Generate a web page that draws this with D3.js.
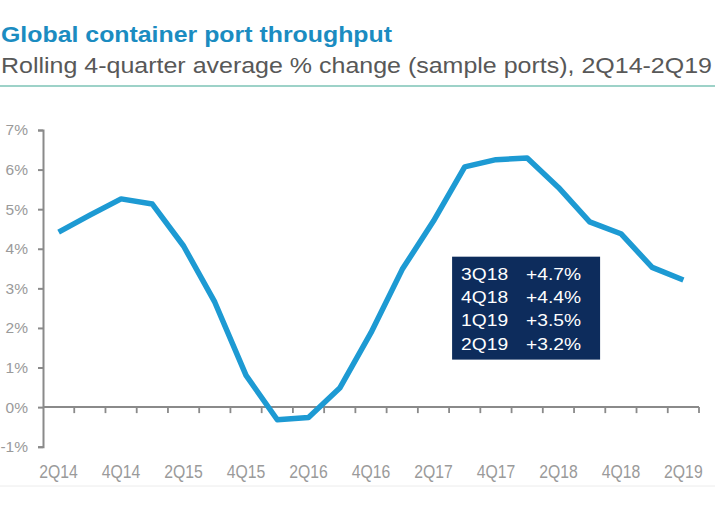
<!DOCTYPE html>
<html>
<head>
<meta charset="utf-8">
<script src="https://cdn.jsdelivr.net/npm/d3@7"></script>
<style>
  body { margin: 0; background: #fff; }
  svg { display: block; }
</style>
</head>
<body>
<div id="chart"></div>
<script>
const width = 715;
const height = 511;

// --- DATA ---
const quarters = [
  "2Q14", "3Q14", "4Q14", "1Q15", "2Q15", "3Q15", "4Q15",
  "1Q16", "2Q16", "3Q16", "4Q16", "1Q17", "2Q17", "3Q17",
  "4Q17", "1Q18", "2Q18", "3Q18", "4Q18", "1Q19", "2Q19"
];
const throughput = [
  4.42, 4.85, 5.26, 5.13, 4.07, 2.65, 0.80,
  -0.32, -0.26, 0.48, 1.88, 3.48, 4.70, 6.07,
  6.25, 6.29, 5.55, 4.68, 4.38, 3.53, 3.21
];
const yTicks = [-1, 0, 1, 2, 3, 4, 5, 6, 7];
const xLabels = ["2Q14", "4Q14", "2Q15", "4Q15", "2Q16", "4Q16", "2Q17", "4Q17", "2Q18", "4Q18", "2Q19"];
const boxQuarters = ["3Q18", "4Q18", "1Q19", "2Q19"];
const boxValues = ["+4.7%", "+4.4%", "+3.5%", "+3.2%"];

const margin = { top: 130, right: 16, bottom: 65, left: 43 };

const svg = d3.select("#chart")
  .append("svg")
  .attr("width", width)
  .attr("height", height)
  .style("font-family", "Arial, 'Liberation Sans', sans-serif");

// the source picture is a bit wider than normal Arial, stretch texts to match
function stretch(sel, factor) {
  sel.each(function () {
    const len = this.getComputedTextLength();
    d3.select(this)
      .attr("textLength", len * factor)
      .attr("lengthAdjust", "spacingAndGlyphs");
  });
}

// --- HEADER ---
svg.append("text")
  .attr("x", 1)
  .attr("y", 42)
  .attr("fill", "#1b8cc1")
  .attr("font-size", "22px")
  .attr("font-weight", "bold")
  .text("Global container port throughput")
  .attr("textLength", 391)
  .attr("lengthAdjust", "spacingAndGlyphs");

svg.append("text")
  .attr("x", 1)
  .attr("y", 73)
  .attr("fill", "#585858")
  .attr("font-size", "21.5px")
  .text("Rolling 4-quarter average % change (sample ports), 2Q14-2Q19")
  .attr("textLength", 711)
  .attr("lengthAdjust", "spacingAndGlyphs");

svg.append("line")
  .attr("x1", 0).attr("x2", width)
  .attr("y1", 86).attr("y2", 86)
  .attr("stroke", "#7cc3b6")
  .attr("stroke-width", 1.5);

svg.append("line")
  .attr("x1", 0).attr("x2", width)
  .attr("y1", 486).attr("y2", 486)
  .attr("stroke", "#ececec")
  .attr("stroke-width", 1);

// --- SCALES ---
const x = d3.scaleBand()
  .domain(quarters)
  .range([margin.left, 699])
  .paddingInner(0)
  .paddingOuter(0);

const y = d3.scaleLinear()
  .domain([-1, 7])
  .range([446.7, margin.top]);

const axisColor = "#8a8a8a";
const labelColor = "#9a9a9a";

// y axis
const yAxis = svg.append("g")
  .attr("transform", `translate(${margin.left},0)`)
  .call(d3.axisLeft(y)
    .tickValues(yTicks)
    .tickSize(5)
    .tickPadding(10)
    .tickFormat(d => d + "%"));

yAxis.select(".domain").attr("stroke", axisColor).attr("stroke-width", 2);
yAxis.selectAll(".tick line").attr("stroke", axisColor).attr("stroke-width", 2);
yAxis.selectAll(".tick text")
  .attr("fill", labelColor)
  .attr("font-size", "15.5px")
  .attr("font-family", "Arial, 'Liberation Sans', sans-serif");

// x axis at 0%, ticks on band boundaries
const xAxisG = svg.append("g");

xAxisG.append("line")
  .attr("x1", x.range()[0]).attr("x2", x.range()[1])
  .attr("y1", y(0)).attr("y2", y(0))
  .attr("stroke", axisColor)
  .attr("stroke-width", 2);

xAxisG.selectAll(".xtick")
  .data(quarters)
  .join("line")
  .attr("class", "xtick")
  .attr("x1", d => x(d) + x.bandwidth())
  .attr("x2", d => x(d) + x.bandwidth())
  .attr("y1", y(0))
  .attr("y2", y(0) + 6)
  .attr("stroke", axisColor)
  .attr("stroke-width", 1.8);

xAxisG.selectAll(".xlabel")
  .data(xLabels)
  .join("text")
  .attr("class", "xlabel")
  .attr("x", d => x(d) + x.bandwidth() / 2)
  .attr("y", 478)
  .attr("text-anchor", "middle")
  .attr("fill", labelColor)
  .attr("font-size", "17.5px")
  .text(d => d)
  .call(stretch, 0.9);

// --- LINE ---
const line = d3.line()
  .x((d, i) => x(quarters[i]) + x.bandwidth() / 2)
  .y(d => y(d))
  .curve(d3.curveLinear);

svg.append("path")
  .datum(throughput)
  .attr("d", line)
  .attr("fill", "none")
  .attr("stroke", "#1d9ad3")
  .attr("stroke-width", 5.5)
  .attr("stroke-linejoin", "round")
  .attr("stroke-linecap", "butt");

// --- ANNOTATION BOX ---
const boxX = x("3Q17") + 3;
const boxY = y(3.8);
const boxW = 148;
const boxH = y(1.2) - y(3.8);

const box = svg.append("g");

box.append("rect")
  .attr("x", boxX)
  .attr("y", boxY)
  .attr("width", boxW)
  .attr("height", boxH)
  .attr("fill", "#0d2c5c");

box.selectAll(".bq")
  .data(boxQuarters)
  .join("text")
  .attr("class", "bq")
  .attr("x", boxX + 9)
  .attr("y", (d, i) => boxY + 23 + i * 23.4)
  .attr("fill", "#ffffff")
  .attr("font-size", "16px")
  .text(d => d)
  .call(stretch, 1.2);

box.selectAll(".bv")
  .data(boxValues)
  .join("text")
  .attr("class", "bv")
  .attr("x", boxX + 74)
  .attr("y", (d, i) => boxY + 23 + i * 23.4)
  .attr("fill", "#ffffff")
  .attr("font-size", "16px")
  .text(d => d)
  .call(stretch, 1.2);
</script>
</body>
</html>
